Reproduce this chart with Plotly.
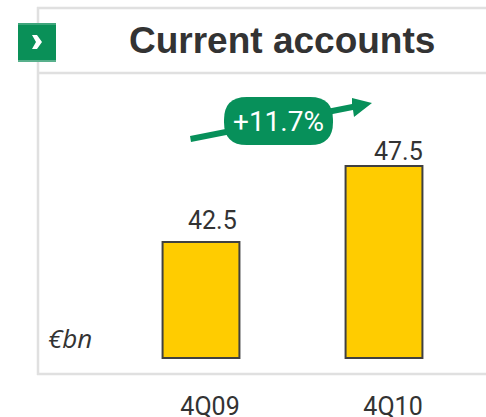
import plotly.graph_objects as go

categories = ["4Q09", "4Q10"]
values = [42.5, 47.5]
value_labels = ["42.5", "47.5"]
growth_label = "+11.7%"
unit_label = "€bn"
title_text = "Current accounts"

W, H = 486, 417
PLOT_H = 388
BASE = 34.87
PX_PER_UNIT = 15.2
BASE_PY = 358
GREEN = "#07905a"
FRAME = "#e0e0e0"
DARK = "#333333"
NARROW = "Roboto"


def px(x):
    return x / W


def py(y):
    return 1 - y / PLOT_H


def path(points):
    return "M" + " L".join(f"{px(x):.5f},{py(y):.5f}" for x, y in points) + " Z"


def pill(x0, x1, y0, y1):
    r = (y1 - y0) / 2 * 0.95
    yr = r / PLOT_H
    xr = r / W
    a, b, t, m = px(x0), px(x1), py(y0), py(y1)
    return (
        f"M{a + xr},{t} L{b - xr},{t} Q{b},{t} {b},{t - yr} L{b},{m + yr} Q{b},{m} {b - xr},{m} "
        f"L{a + xr},{m} Q{a},{m} {a},{m + yr} L{a},{t - yr} Q{a},{t} {a + xr},{t} Z"
    )


def shape(p, color):
    return dict(type="path", xref="paper", yref="paper", path=p,
                fillcolor=color, line=dict(width=0))


def hline(x0, x1, y):
    return dict(type="line", xref="paper", yref="paper", x0=px(x0), x1=px(x1), y0=py(y), y1=py(y),
                line=dict(color=FRAME, width=2.5))


fig = go.Figure(
    go.Bar(
        x=categories,
        y=[v - BASE for v in values],
        base=[BASE] * len(values),
        width=0.42,
        marker=dict(color="#ffcc00", line=dict(color="#404040", width=2)),
        hoverinfo="skip",
    )
)

shapes = [
    hline(37, 486, 8),
    hline(37, 486, 73),
    hline(37, 486, 374),
    dict(type="line", xref="paper", yref="paper", x0=px(38), x1=px(38), y0=py(7), y1=py(375),
         line=dict(color=FRAME, width=2.5)),
    # button
    shape(path([(18, 23), (56, 23), (56, 62), (18, 62)]), "#0a9058"),
    shape(path([(18, 23), (56, 23), (56, 25), (18, 25)]), "#3fa67c"),
    shape(path([(18, 60), (56, 60), (56, 62), (18, 62)]), "#58b08c"),
    shape(path([(32, 35), (37, 35), (42, 42), (37, 49), (32, 49), (36, 42)]), "#ffffff"),
    # growth arrow
    shape(path([(190, 136), (352, 104), (352, 98), (372, 103), (354, 117), (353, 110), (191, 142)]), GREEN),
    shape(pill(224, 333, 97, 145), GREEN),
]

annotations = [
    dict(text=f"<b>{title_text}</b>", xref="paper", yref="paper", x=px(281.5), y=py(41),
         xanchor="center", yanchor="middle", showarrow=False,
         font=dict(family="Liberation Sans", size=37, color=DARK)),
    dict(text=growth_label, xref="paper", yref="paper", x=px(278.5), y=py(121),
         xanchor="center", yanchor="middle", showarrow=False,
         font=dict(family=NARROW, size=28, color="#ffffff")),
    dict(text=f"<i>{unit_label}</i>", xref="paper", yref="paper", x=px(69.5), y=py(338),
         xanchor="center", yanchor="middle", showarrow=False,
         font=dict(family="Open Sans", size=26, color=DARK)),
]
label_shifts = [(11, 5), (14, -2)]
for cat, v, lab, (dx, dy) in zip(categories, values, value_labels, label_shifts):
    annotations.append(dict(text=lab, x=cat, y=v, xanchor="center", yanchor="bottom", showarrow=False,
                            xshift=dx, yshift=dy,
                            font=dict(family=NARROW, size=25, color=DARK)))

cx0, per_cat = 201, 183
fig.update_layout(
    width=W,
    height=H,
    autosize=False,
    margin=dict(l=0, r=0, t=0, b=H - PLOT_H, pad=0),
    paper_bgcolor="#ffffff",
    plot_bgcolor="#ffffff",
    showlegend=False,
    shapes=shapes,
    annotations=annotations,
    xaxis=dict(
        type="category",
        range=[-cx0 / per_cat, (W - cx0) / per_cat],
        showgrid=False, zeroline=False, showline=False, ticks="",
        tickfont=dict(family=NARROW, size=25, color=DARK),
        ticklabelshift=9,
        ticklabelstandoff=1,
        automargin=False,
        fixedrange=True,
    ),
    yaxis=dict(
        range=[BASE - (PLOT_H - BASE_PY) / PX_PER_UNIT, BASE + BASE_PY / PX_PER_UNIT],
        visible=False,
        automargin=False,
        fixedrange=True,
    ),
)

fig.write_html("out.html", config=dict(displayModeBar=False),
               post_script="document.body.style.margin='0';document.body.style.overflow='hidden';")
